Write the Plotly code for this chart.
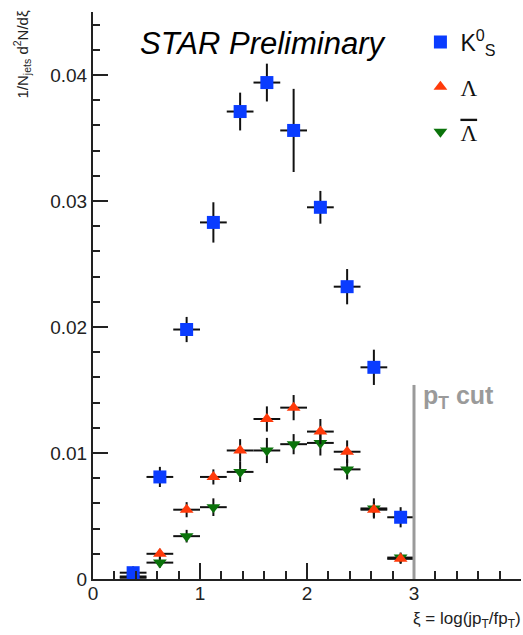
import plotly.graph_objects as go

# ---- data ----
xi = [0.375, 0.625, 0.875, 1.125, 1.375, 1.625, 1.875, 2.125, 2.375, 2.625, 2.875]
xi_half_width = [0.125] * 11

k0s = [0.0005, 0.0081, 0.0198, 0.0283, 0.0371, 0.0394, 0.0356, 0.0295, 0.0232, 0.0168, 0.0049]
k0s_err = [0.0005, 0.0008, 0.0010, 0.0016, 0.0015, 0.0015, 0.0033, 0.0013, 0.0014, 0.0014, 0.0008]

lam = [0.0002, 0.0020, 0.0055, 0.0081, 0.0102, 0.0127, 0.0136, 0.0117, 0.0101, 0.0055, 0.0016]
lam_err = [0.0002, 0.0004, 0.0006, 0.0006, 0.0009, 0.0010, 0.0010, 0.0010, 0.0009, 0.0006, 0.0004]

alam = [0.0001, 0.0013, 0.0034, 0.0057, 0.0085, 0.0102, 0.0107, 0.0108, 0.0087, 0.0056, 0.0017]
alam_err = [0.0001, 0.0004, 0.0005, 0.0007, 0.0008, 0.0010, 0.0008, 0.0010, 0.0008, 0.0008, 0.0004]

pt_cut_xi = 3.0
pt_cut_top = 0.0154

x_ticks = [0, 1, 2, 3, 4]
y_ticks = [0, 0.01, 0.02, 0.03, 0.04]
y_tick_text = ["0", "0.01", "0.02", "0.03", "0.04"]

BLUE = "#0a3cff"
RED = "#ff3a0a"
GREEN = "#0b730b"
GREY = "#9a9a9a"
INK = "#222222"
FONT = "Liberation Sans, Arial, sans-serif"

fig = go.Figure()


def add_series(y, yerr, name, color, symbol, size, rank):
    fig.add_trace(go.Scatter(
        x=xi, y=y, mode="markers", name=name, legendgroup=str(rank), legendrank=rank,
        marker=dict(color=color, symbol=symbol, size=size, line=dict(width=0)),
        error_y=dict(type="data", array=yerr, color="#111111", thickness=2, width=0),
        error_x=dict(type="data", array=xi_half_width, color="#111111", thickness=2, width=0),
    ))


add_series(alam, alam_err,
           "<span style='font-family:Liberation Serif;text-decoration:overline'>Λ</span>",
           GREEN, "triangle-down", 12, 3)
add_series(lam, lam_err, "<span style='font-family:Liberation Serif'>Λ</span>", RED, "triangle-up", 12, 2)
add_series(k0s, k0s_err, "K<sup>0</sup><sub>S</sub>", BLUE, "square", 13, 1)

# pT cut line
fig.add_shape(type="line", xref="x", yref="y", x0=pt_cut_xi, x1=pt_cut_xi, y0=0, y1=pt_cut_top,
              line=dict(color=GREY, width=3))

fig.add_annotation(x=pt_cut_xi, y=pt_cut_top, xref="x", yref="y", xanchor="left", yanchor="middle",
                   xshift=7, yshift=-12, showarrow=False,
                   text="<b>p<sub>T</sub> cut</b>", font=dict(family=FONT, size=25, color=GREY))

fig.add_annotation(x=0.105, y=0.945, xref="paper", yref="paper", xanchor="left", yanchor="middle",
                   showarrow=False, text="<i>STAR Preliminary</i>",
                   font=dict(family=FONT, size=31, color="#000000"))

# axis titles
fig.add_annotation(x=-0.166, y=0.925, xref="paper", yref="paper", xanchor="center", yanchor="middle",
                   textangle=-90, showarrow=False,
                   text="1/N<sub>jets</sub> d<sup>2</sup>N/dξ",
                   font=dict(family=FONT, size=15, color=INK))
fig.add_annotation(x=1.005, y=-0.072, xref="paper", yref="paper", xanchor="right", yanchor="middle",
                   showarrow=False, text="ξ = log(jp<sub>T</sub>/fp<sub>T</sub>)",
                   font=dict(family=FONT, size=17, color=INK))

fig.update_layout(
    width=523, height=635,
    margin=dict(l=93, r=2, t=12, b=56),
    paper_bgcolor="white", plot_bgcolor="white",
    font=dict(family=FONT, size=19, color=INK),
    showlegend=True,
    legend=dict(x=0.765, y=0.985, xanchor="left", yanchor="top",
                bgcolor="rgba(0,0,0,0)", font=dict(family=FONT, size=23, color="#111111"),
                traceorder="grouped", tracegroupgap=12, itemwidth=30),
)

fig.update_xaxes(range=[0, 4], showgrid=False, zeroline=False, showline=True, linecolor=INK, linewidth=2,
                 ticks="inside", ticklen=16, tickwidth=2, tickcolor=INK,
                 tickvals=x_ticks, ticktext=[str(v) for v in x_ticks],
                 tickfont=dict(family=FONT, size=19, color=INK), ticklabelstandoff=-4,
                 minor=dict(ticks="inside", ticklen=8, tickwidth=2, tickcolor=INK, dtick=0.2, showgrid=False))
fig.update_yaxes(range=[0, 0.045], showgrid=False, zeroline=False, showline=True, linecolor=INK, linewidth=2,
                 ticks="inside", ticklen=15, tickwidth=2, tickcolor=INK,
                 tickvals=y_ticks, ticktext=y_tick_text,
                 tickfont=dict(family=FONT, size=19, color=INK),
                 minor=dict(ticks="inside", ticklen=7, tickwidth=2, tickcolor=INK, dtick=0.002, showgrid=False))

fig.write_html("out.html")
